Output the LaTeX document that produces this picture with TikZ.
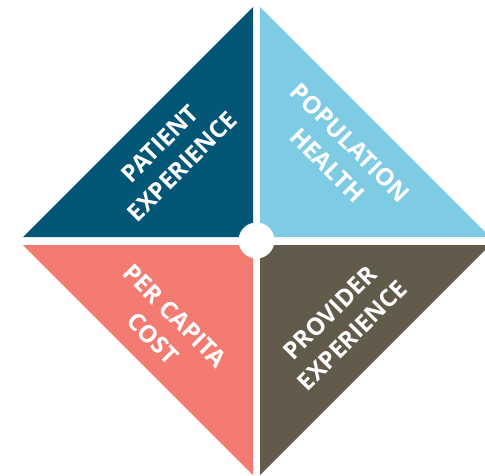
\documentclass[tikz,border=0pt]{standalone}
\usepackage{fontspec}
\setmainfont{Open Sans}
\usepackage{tikz}
\definecolor{patientblue}{HTML}{045676}
\definecolor{popblue}{HTML}{7ECCE3}
\definecolor{costred}{HTML}{F47B71}
\definecolor{provbrown}{HTML}{625B4B}

\begin{document}
\begin{tikzpicture}
[x=1pt,y=1pt,
quad/.style={text=white,font=\bfseries\fontsize{24}{32}\selectfont,align=center,inner sep=0pt}]
\useasboundingbox (0,0) rectangle (485,475);
\fill[white] (0,0) rectangle (485,475);
\fill[patientblue] (23,238) -- (253,238) -- (253,468) -- cycle;
\fill[popblue] (260,468) -- (260,238) -- (490,238) -- cycle;
\fill[costred] (23,230) -- (253,230) -- (253,0) -- cycle;
\fill[provbrown] (260,230) -- (490,230) -- (260,0) -- cycle;
\node[circle,fill=white,minimum size=36pt,inner sep=0pt] (hub) at (256.5,234.5) {};
\node[quad,rotate=45] (patient) at (171,320) {PATIENT\\EXPERIENCE};
\node[quad,rotate=-45] (population) at (339,321) {POPULATION\\HEALTH};
\node[quad,rotate=-45] (cost) at (164,148) {PER CAPITA\\COST};
\node[quad,rotate=45] (provider) at (341,151) {PROVIDER\\EXPERIENCE};
\end{tikzpicture}
\end{document}
